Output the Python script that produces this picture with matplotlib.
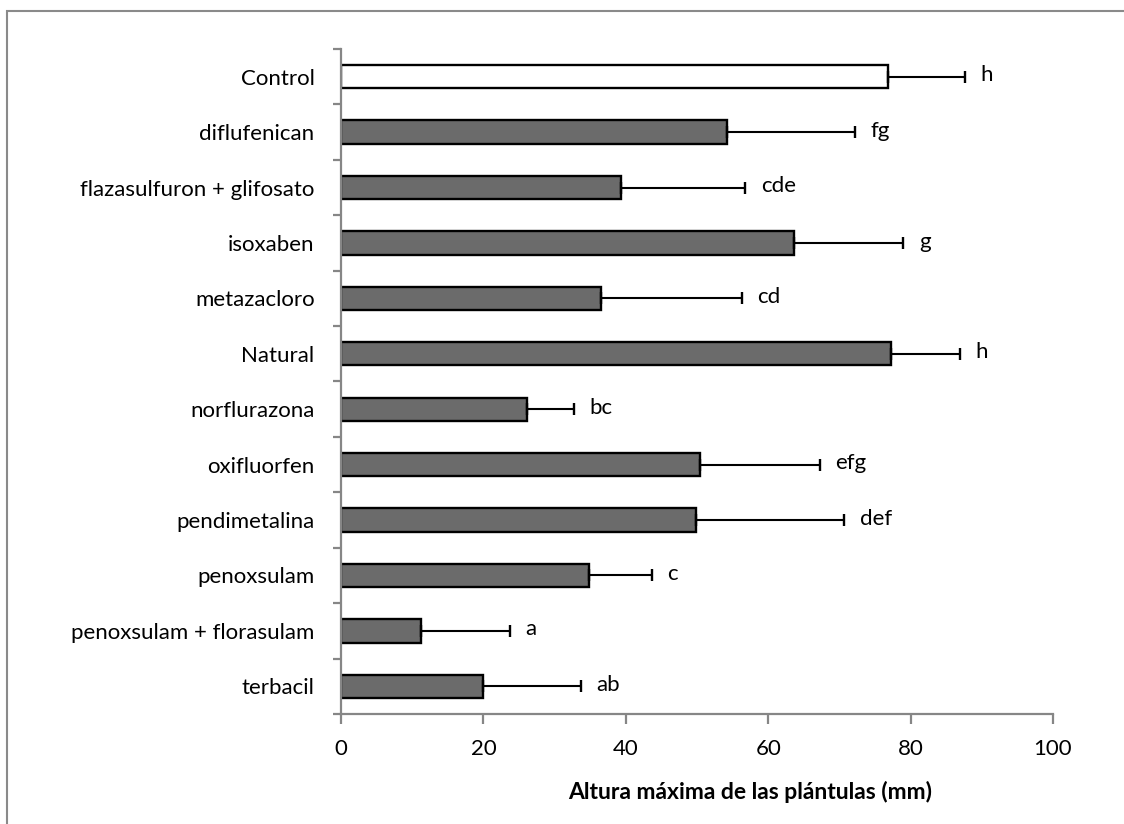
import matplotlib
matplotlib.use("Agg")
import matplotlib.pyplot as plt
from matplotlib.patches import Rectangle
import numpy as np

plt.rcParams['font.family'] = ['Lato', 'DejaVu Sans']

# datos
tratamientos = ["Control", "diflufenican", "flazasulfuron + glifosato", "isoxaben",
                "metazacloro", "Natural", "norflurazona", "oxifluorfen",
                "pendimetalina", "penoxsulam", "penoxsulam + florasulam", "terbacil"]
altura = [76.8, 54.2, 39.3, 63.6, 36.5, 77.3, 26.1, 50.4, 49.8, 34.8, 11.2, 20.0]
error = [10.8, 18.0, 17.5, 15.4, 19.8, 9.7, 6.6, 16.9, 20.9, 8.9, 12.6, 13.7]
letras = ["h", "fg", "cde", "g", "cd", "h", "bc", "efg", "def", "c", "a", "ab"]

fig = plt.figure(figsize=(11.24, 8.24), dpi=100)
ax = fig.add_axes([341/1124, 1 - 714/824, (1053 - 341)/1124, (714 - 49)/824])

# marco exterior (solo se ven borde izquierdo y superior)
fig.patches.append(Rectangle((7/1124, -0.1), 1.2, 1 - 11/824 + 0.1,
                             transform=fig.transFigure, fill=False,
                             edgecolor='#8a8a8a', linewidth=1.5))

y = np.arange(len(tratamientos))
colores = ['white'] + ['#6b6b6b'] * (len(tratamientos) - 1)
ax.barh(y, altura, height=0.42, color=colores, edgecolor='black', linewidth=1.7, zorder=2)
ax.errorbar(altura, y, xerr=[np.zeros(len(error)), error], fmt='none',
            ecolor='black', elinewidth=1.5, capsize=4.5, capthick=1.7, zorder=3)

for xi, ei, yi, txt in zip(altura, error, y, letras):
    ax.annotate(txt, (xi + ei, yi), xytext=(11, 1), textcoords='offset points',
                ha='left', va='center', fontsize=16)

ax.set_xlim(0, 100)
ax.set_ylim(len(tratamientos) - 0.5, -0.5)
ax.set_xticks([0, 20, 40, 60, 80, 100])
ax.set_yticks(np.arange(len(tratamientos) + 1) - 0.5)
ax.set_yticklabels([])
ax.set_yticks(y, minor=True)
ax.set_yticklabels(tratamientos, minor=True)

for s in ['top', 'right']:
    ax.spines[s].set_visible(False)
for s in ['left', 'bottom']:
    ax.spines[s].set_color('#868686')
    ax.spines[s].set_linewidth(1.6)

ax.tick_params(axis='x', which='major', direction='out', length=7, width=1.6,
               color='#868686', labelsize=16, pad=11)
ax.tick_params(axis='y', which='major', direction='out', length=6, width=1.6,
               color='#868686')
ax.tick_params(axis='y', which='minor', length=0, labelsize=16, pad=19)

ax.set_xlabel("Altura máxima de las plántulas (mm)", fontsize=16.5, fontweight='bold')
ax.xaxis.set_label_coords((750 - 341)/712, -(792 - 714)/665)
ax.xaxis.label.set_va('center')

fig.savefig("out.png", dpi=100)
